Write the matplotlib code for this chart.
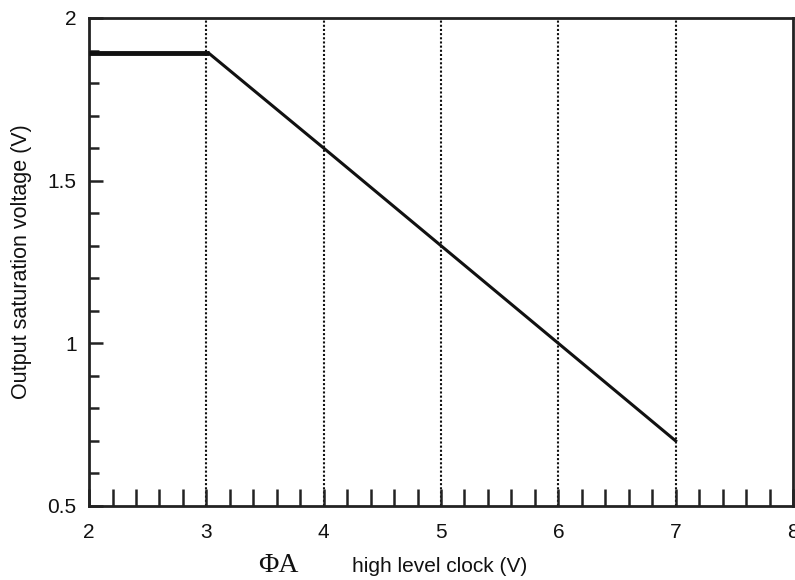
import matplotlib
matplotlib.use("Agg")
import matplotlib.pyplot as plt
import numpy as np

# Data
plateau_x = [2.0, 3.02]
plateau_y = [1.892, 1.892]
slope_x = [3.02, 4.0, 5.0, 6.0, 7.0]
slope_y = [1.892, 1.6, 1.3, 1.0, 0.7]
grid_x = [3, 4, 5, 6, 7]
x_ticks = [2, 3, 4, 5, 6, 7, 8]
y_ticks = [0.5, 1, 1.5, 2]
y_tick_labels = ["0.5", "1", "1.5", "2"]

plt.rcParams['font.family'] = ['Liberation Sans', 'DejaVu Sans']

fig = plt.figure(figsize=(7.95, 5.8), dpi=100)
ax = fig.add_axes([0.112, 0.1276, 0.8855, 0.8414])

ax.set_xlim(2, 8)
ax.set_ylim(0.5, 2)

for gx in grid_x:
    ax.axvline(gx, color='#111111', lw=1.5, ls=(0, (1, 1)), zorder=1)

ax.plot(plateau_x, plateau_y, color='#111111', lw=3.5, solid_capstyle='butt', zorder=3)
ax.plot(slope_x, slope_y, color='#111111', lw=2.2, solid_joinstyle='miter', zorder=3)

for s in ax.spines.values():
    s.set_linewidth(2.0)
    s.set_color('#222222')

ax.set_xticks(x_ticks)
ax.set_xticklabels([str(v) for v in x_ticks])
ax.set_xticks(np.arange(2, 8.001, 0.2), minor=True)
ax.set_yticks(y_ticks)
ax.set_yticklabels(y_tick_labels)
ax.set_yticks(np.arange(0.5, 2.001, 0.1), minor=True)

ax.tick_params(axis='x', which='both', direction='in', length=12, width=1.8,
               top=False, labelsize=15, pad=12.5, colors='#222222', labelcolor='#111111')
ax.tick_params(axis='y', which='major', direction='in', length=10, width=1.8,
               right=False, labelsize=15, pad=9, colors='#222222', labelcolor='#111111')
ax.tick_params(axis='y', which='minor', direction='in', length=7.5, width=1.8,
               right=False, colors='#222222')

ax.set_ylabel("Output saturation voltage (V)", fontsize=15.5, labelpad=11, color='#111111')

fig.text(0.3245, 0.0138, "ΦA", fontsize=20, family=['Liberation Serif', 'DejaVu Serif'],
         ha='left', va='baseline', color='#111111')
fig.text(0.443, 0.0138, "high level clock (V)", fontsize=15, ha='left', va='baseline',
         color='#111111')

fig.savefig("out.png", dpi=100)
